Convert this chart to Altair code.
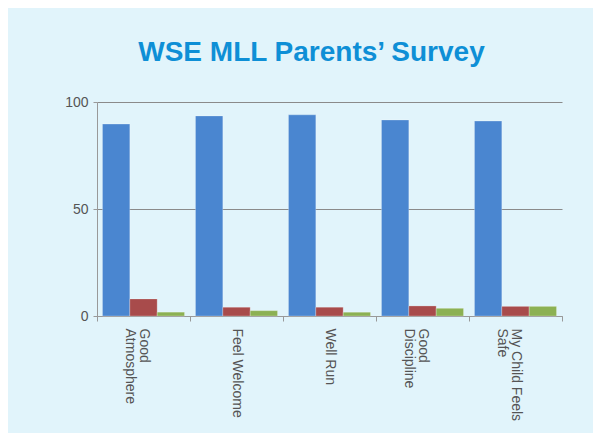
import altair as alt
import pandas as pd

categories = ["Good|Atmosphere", "Feel Welcome", "Well Run", "Good|Discipline", "My Child Feels|Safe"]
series_names = ["Agree", "Disagree", "Don't Know"]
agree = [89.7, 93.5, 94.0, 91.6, 91.1]
disagree = [8.0, 4.1, 4.1, 4.7, 4.5]
dont_know = [1.8, 2.5, 1.8, 3.6, 4.5]
colors = ["#4A86D0", "#A84B4B", "#8CB153"]
y_ticks = [0, 50, 100]

rows = []
for i, c in enumerate(categories):
    for s, vals in zip(series_names, [agree, disagree, dont_know]):
        rows.append({"category": c, "series": s, "value": vals[i]})
df = pd.DataFrame(rows)

bars = alt.Chart(df).mark_bar(stroke="#ffffff", strokeOpacity=0.25, strokeWidth=1).encode(
    x=alt.X("category:N", sort=categories, title=None,
            scale=alt.Scale(paddingInner=0, paddingOuter=0),
            axis=alt.Axis(labelAngle=90, labelExpr="split(datum.label, '|')",
                          tickBand="extent", tickSize=5, labelPadding=7,
                          labelFontSize=14, labelColor="#555555", labelFont="Liberation Sans",
                          labelLineHeight=14,
                          domainColor="#999999", tickColor="#999999", grid=False)),
    xOffset=alt.XOffset("series:N", sort=series_names,
                        scale=alt.Scale(paddingInner=0, paddingOuter=0.2)),
    y=alt.Y("value:Q", title=None, scale=alt.Scale(domain=[0, 100]),
            axis=alt.Axis(values=y_ticks, tickSize=4, labelPadding=5,
                          labelFontSize=14, labelColor="#555555", labelFont="Liberation Sans",
                          domainColor="#999999", tickColor="#999999",
                          gridColor="#8a8a8a", gridWidth=1)),
    color=alt.Color("series:N", sort=series_names, legend=None,
                    scale=alt.Scale(domain=series_names, range=colors)),
)

chart = bars.properties(
    width=465,
    height=214,
    autosize=alt.AutoSizeParams(type="none"),
    padding={"left": 89, "top": 94, "right": 31, "bottom": 117},
    background="#E1F4FB",
    title=alt.TitleParams("WSE MLL Parents\u2019 Survey", fontSize=28, fontWeight="bold",
                          font="Liberation Sans", color="#0E8FD6", anchor="middle",
                          baseline="alphabetic", offset=6, dx=-18),
).configure_view(stroke=None)

chart.save("out.html", embed_options={"renderer": "svg", "actions": False})
